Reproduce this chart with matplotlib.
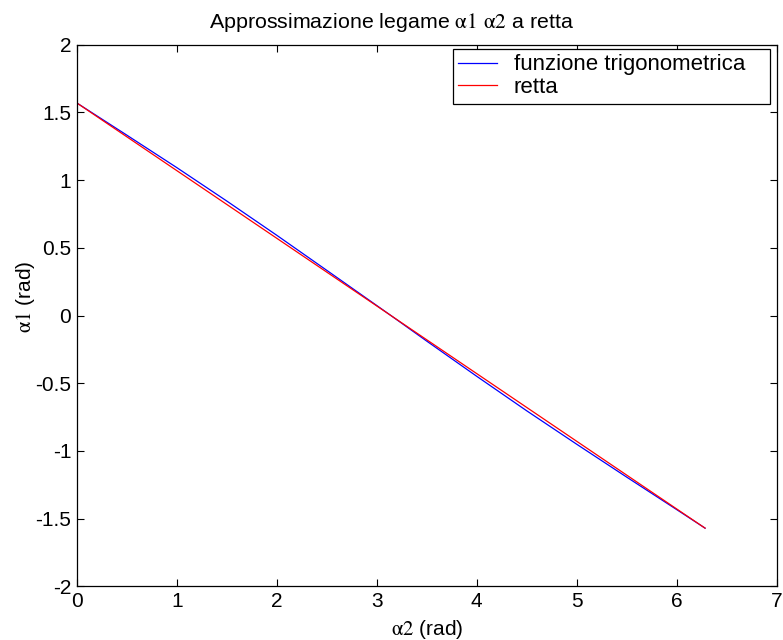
import matplotlib
matplotlib.use("Agg")
import matplotlib.pyplot as plt
import numpy as np

# valori
alpha2 = [0.0, 0.5, 1.0, 1.5, 2.0, 2.5, 3.0, 3.1416, 3.5, 4.0, 4.5, 5.0, 5.5, 6.0, 6.2832]
alpha1_trig = [1.5708, 1.333, 1.093, 0.846, 0.593, 0.334, 0.074, 0.0, -0.189, -0.449,
               -0.704, -0.951, -1.194, -1.434, -1.5708]
alpha1_retta = [1.5708, 1.3208, 1.0708, 0.8208, 0.5708, 0.3208, 0.0708, 0.0, -0.1792, -0.4292,
                -0.6792, -0.9292, -1.1792, -1.4292, -1.5708]

xticks = [0, 1, 2, 3, 4, 5, 6, 7]
yticks = [-2, -1.5, -1, -0.5, 0, 0.5, 1, 1.5, 2]
ylabels = ['-2', '-1.5', '-1', '-0.5', '0', '0.5', '1', '1.5', '2']

plt.rcParams['font.family'] = ['Liberation Sans', 'DejaVu Sans']
plt.rcParams['mathtext.fontset'] = 'stix'

fig = plt.figure(figsize=(7.83, 6.4), dpi=100)
ax = fig.add_axes([0.098, 0.084, 0.894, 0.846])

ax.plot(alpha2, alpha1_trig, color='blue', lw=0.9, label='funzione trigonometrica')
ax.plot(alpha2, alpha1_retta, color='red', lw=0.9, label='retta')

ax.set_xlim(0, 7)
ax.set_ylim(-2, 2)
ax.set_xticks(xticks)
ax.set_yticks(yticks)
ax.set_yticklabels(ylabels)
ax.tick_params(direction='in', top=True, right=True, labelsize=15, length=5)
ax.tick_params(axis='x', pad=4)
ax.tick_params(axis='y', pad=4)
for s in ax.spines.values():
    s.set_linewidth(0.9)

ax.set_title(r'Approssimazione legame $\mathrm{\alpha 1}$ $\mathrm{\alpha 2}$ a retta',
             fontsize=15.4, pad=12, x=0.449)
ax.set_xlabel(r'$\mathrm{\alpha 2}$ (rad)', fontsize=15, labelpad=5)
ax.set_ylabel(r'$\mathrm{\alpha 1}$ (rad)', fontsize=15, labelpad=0)
ax.yaxis.set_label_coords(-0.057, 0.534)

leg = ax.legend(loc='upper left', bbox_to_anchor=(0.537, 0.8926, 0.454, 0.1),
                mode='expand', fontsize=16, fancybox=False, framealpha=1,
                edgecolor='black', borderaxespad=0, handlelength=1.75,
                handletextpad=0.75, borderpad=0.25, labelspacing=0.08)
leg.get_frame().set_linewidth(0.9)

fig.savefig('out.png', dpi=100)
